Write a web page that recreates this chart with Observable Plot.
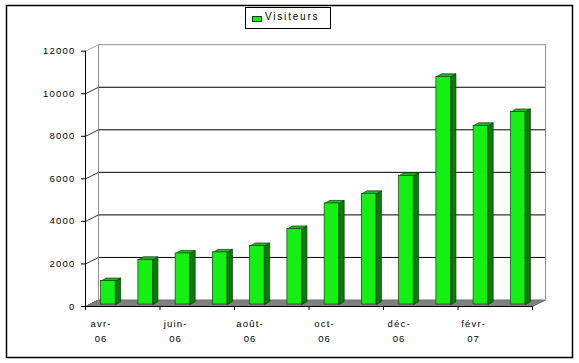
<!DOCTYPE html>
<html><head><meta charset="utf-8">
<script src="https://cdn.jsdelivr.net/npm/d3@7"></script>
<script src="https://cdn.jsdelivr.net/npm/@observablehq/plot@0.6"></script>
<style>
body{margin:0;background:#fff;}
#wrap{position:relative;width:579px;height:363px;font-family:Arial,"Liberation Sans",sans-serif;}
#legend{position:absolute;left:245px;top:7px;width:86px;height:22px;border:1px solid #000;background:#fff;box-sizing:border-box;}
#legend .sw{position:absolute;left:6px;top:8px;width:10px;height:6px;background:#14f014;border:1px solid #064006;box-sizing:border-box;}
#legend .lb{position:absolute;left:19px;top:2px;font-size:10px;letter-spacing:1.8px;line-height:14px;color:#000;}
</style></head>
<body><div id="wrap"><div id="chart"></div><div id="legend"><div class="sw"></div><div class="lb">Visiteurs</div></div></div>
<script>
const months = ["avr-06","mai-06","juin-06","juil-06","août-06","sept-06","oct-06","nov-06","déc-06","janv-07","févr-07","mars-07"];
const visiteurs = [1100, 2100, 2400, 2450, 2750, 3550, 4750, 5200, 6050, 10700, 8400, 9050];
const yTicks = [0, 2000, 4000, 6000, 8000, 10000, 12000];
const xTickLabels = ["avr-\n06", "juin-\n06", "août-\n06", "oct-\n06", "déc-\n06", "févr-\n07"];
const seriesName = "Visiteurs";

// geometry helpers (pixel extents of the front plane)
const X0 = 85, X1 = 532, Y0 = 306, Y1 = 50.7;
const n = months.length, yMax = yTicks[yTicks.length - 1];
const kx = n / (X1 - X0), ky = yMax / (Y0 - Y1);
const DX = 13 * kx, DY = 6.5 * ky;       // depth of the box
const bdx = 5 * kx, bdy = 3 * ky;        // depth of a bar
const b0 = 0.42, b1 = 0.81;              // bar front face within band

const bars = visiteurs.map((v, i) => ({i, v, m: months[i]}));
const sides = bars.flatMap(({i, v}) => [[i+b1,0],[i+b1,v],[i+b1+bdx,v+bdy],[i+b1+bdx,bdy],[i+b1,0]].map(([x,y]) => ({i, x, y})));
const tops = bars.flatMap(({i, v}) => [[i+b0,v],[i+b1,v],[i+b1+bdx,v+bdy],[i+b0+bdx,v+bdy],[i+b0,v]].map(([x,y]) => ({i, x, y})));
const floor = [[0,0],[n,0],[n+DX,DY],[DX,DY],[0,0]].map(([x,y]) => ({x, y}));
const grid = yTicks.filter(t => t > 0 && t < yMax);
const xTickPos = d3.range(0, n + 1, 2);
const xLab = xTickLabels.map((t, j) => ({t, x: 2 * j + 0.5}));

const chart = Plot.plot({
  width: 579, height: 363,
  marginLeft: 6, marginRight: 7, marginTop: 5, marginBottom: 6,
  x: {type: "linear", domain: [0, n], range: [X0, X1], axis: null},
  y: {type: "linear", domain: [0, yMax], range: [Y0, Y1], axis: null},
  style: {fontFamily: "Arial, 'Liberation Sans', sans-serif", fontSize: "9.5px", background: "white", letterSpacing: "1.2px", color: "#000"},
  marks: [
    Plot.frame({stroke: "#000", strokeWidth: 1.5}),
    // back wall gridlines
    Plot.ruleY(grid, {x1: DX, x2: n + DX, y: d => d + DY, stroke: "#000", strokeWidth: 1}),
    Plot.ruleY([yMax], {x1: DX, x2: n + DX, y: d => d + DY, stroke: "#909090", strokeWidth: 1}),
    Plot.ruleX([DX, n + DX], {y1: DY, y2: yMax + DY, stroke: "#909090", strokeWidth: 1}),
    // tick connectors to the back wall
    Plot.link(grid.concat([0]), {x1: 0, y1: d => d, x2: DX, y2: d => d + DY, stroke: "#000", strokeWidth: 0.8}),
    Plot.link([yMax], {x1: 0, y1: d => d, x2: DX, y2: d => d + DY, stroke: "#909090", strokeWidth: 0.8}),
    // floor
    Plot.line(floor, {x: "x", y: "y", fill: "#808080", stroke: "#707070", strokeWidth: 1}),
    // bars
    Plot.line(sides, {x: "x", y: "y", z: "i", fill: "#0e7a0e", stroke: "#053805", strokeWidth: 0.7, dy: -2}),
    Plot.line(tops, {x: "x", y: "y", z: "i", fill: "#22b822", stroke: "#053805", strokeWidth: 0.7, dy: -2}),
    Plot.rect(bars, {x1: d => d.i + b0, x2: d => d.i + b1, y1: 0, y2: "v", fill: "#14f014", stroke: "#064006", strokeWidth: 0.7, dy: -2}),
    // axes
    Plot.ruleX([0], {y1: 0, y2: yMax, stroke: "#000", strokeWidth: 1}),
    Plot.ruleY([0], {x1: 0, x2: n, stroke: "#000", strokeWidth: 1.2}),
    Plot.ruleY(yTicks, {x1: -4 * kx, x2: 0, stroke: "#000", strokeWidth: 1}),
    Plot.ruleX(xTickPos, {y1: 0, y2: -4 * ky, stroke: "#000", strokeWidth: 1}),
    Plot.text(yTicks, {x: 0, y: d => d, text: d => String(d), textAnchor: "end", dx: -10, fill: "#000"}),
    Plot.text(xLab, {x: "x", y: 0, text: "t", lineAnchor: "top", dy: 10, dx: -3, lineHeight: 1.55, fill: "#000"})
  ]
});
document.getElementById("chart").appendChild(chart);
</script>
</body></html>
